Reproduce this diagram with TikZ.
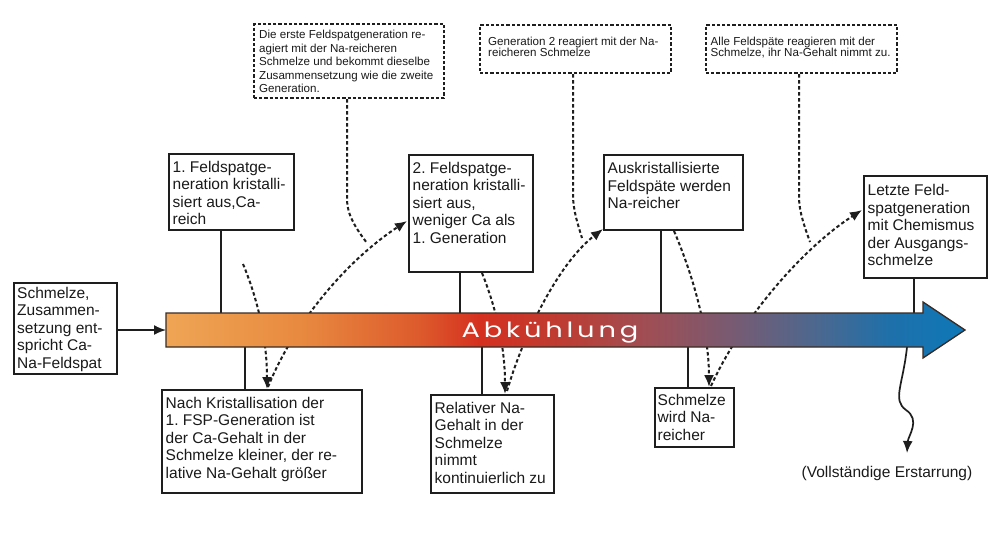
\documentclass[tikz,border=0pt]{standalone}
\usepackage{fontspec}
\setmainfont{Liberation Sans}
\newfontfamily\abkfont[LetterSpace=14]{Poppins}
\usetikzlibrary{arrows.meta}
\frenchspacing
\definecolor{boxc}{HTML}{1E1E1E}
\definecolor{txtc}{HTML}{1A1A1A}
\definecolor{outl}{HTML}{3A2C24}
\definecolor{g0}{HTML}{EFA555}
\definecolor{g1}{HTML}{E88A40}
\definecolor{g2}{HTML}{DD5A2C}
\definecolor{g3}{HTML}{D5301F}
\definecolor{g4}{HTML}{BE3C32}
\definecolor{g5}{HTML}{9E4E55}
\definecolor{g6}{HTML}{745C75}
\definecolor{g7}{HTML}{4A6890}
\definecolor{g8}{HTML}{1E70AA}
\definecolor{g9}{HTML}{0E78B8}
\pgfdeclarehorizontalshading{coolshade}{100bp}{color(0bp)=(g0); color(25bp)=(g0); color(33.4bp)=(g1); color(40.9bp)=(g2); color(44.65bp)=(g3); color(49.65bp)=(g4); color(55.3bp)=(g5); color(60.9bp)=(g6); color(65.9bp)=(g7); color(70.3bp)=(g8); color(75bp)=(g9); color(100bp)=(g9)}
\tikzset{
  box/.style={draw=boxc, line width=1.9pt, fill=white, inner sep=0pt, anchor=north west},
  dbox/.style={box, dash pattern=on 3.2pt off 2pt, line width=2.1pt},
  btxt/.style={anchor=north west, inner sep=0pt, align=left, text=txtc, font=\fontsize{15.5}{17.5}\selectfont},
  stxt/.style={anchor=north west, inner sep=0pt, align=left, text=txtc, font=\fontsize{11.6}{13.5}\selectfont},
  stxtb/.style={stxt, font=\fontsize{11.6}{11.8}\selectfont},
  link/.style={draw=boxc, line width=1.7pt},
  dlink/.style={draw=boxc, line width=2pt, dash pattern=on 3.5pt off 2.5pt},
  tip/.style={-{Latex[length=12pt,width=10pt]}}
}
\begin{document}
\begin{tikzpicture}[x=1pt, y=-1pt]
\useasboundingbox (0,0) rectangle (1000,536);
\fill[white] (0,0) rectangle (1000,536);

% coordinates on the arrow
\coordinate (arrL) at (166,330);
\coordinate (l1) at (221,313);
\coordinate (l2) at (245,347);
\coordinate (l3) at (460,313);
\coordinate (l4) at (482,347);
\coordinate (l5) at (661,313);
\coordinate (l6) at (688,347);
\coordinate (l7) at (914,313);
\coordinate (w0) at (907,347);
\coordinate (w1) at (907,453);

% boxes
\node[box, minimum width=103pt, minimum height=91pt] (s0) at (13,282) {};
\node[btxt] (s0t) at ([xshift=4pt,yshift=-5pt]s0.north west) {Schmelze,\\Zusammen-\\setzung ent-\\spricht Ca-\\Na-Feldspat};

\node[box, minimum width=125pt, minimum height=76pt] (b1) at (168,153) {};
\node[btxt] (b1t) at ([xshift=4.5pt,yshift=-8pt]b1.north west) {1. Feldspatge-\\neration kristalli-\\siert aus,Ca-\\reich};

\node[box, minimum width=124pt, minimum height=117pt] (b2) at (408,154) {};
\node[btxt] (b2t) at ([xshift=4.5pt,yshift=-8pt]b2.north west) {2. Feldspatge-\\neration kristalli-\\siert aus,\\weniger Ca als\\1. Generation};

\node[box, minimum width=139pt, minimum height=75pt] (b3) at (603,154) {};
\node[btxt] (b3t) at ([xshift=4.5pt,yshift=-8.5pt]b3.north west) {Auskristallisierte\\Feldspäte werden\\Na-reicher};

\node[box, minimum width=123pt, minimum height=102pt] (b4) at (863,175) {};
\node[btxt] (b4t) at ([xshift=4.5pt,yshift=-9.5pt]b4.north west) {Letzte Feld-\\spatgeneration\\mit Chemismus\\der Ausgangs-\\schmelze};

\node[box, minimum width=200pt, minimum height=103pt] (d1) at (161,389) {};
\node[btxt] (d1t) at ([xshift=4.5pt,yshift=-8pt]d1.north west) {Nach Kristallisation der\\1. FSP-Generation ist\\der Ca-Gehalt in der\\Schmelze kleiner, der re-\\lative Na-Gehalt größer};

\node[box, minimum width=123pt, minimum height=98pt] (d2) at (430,394) {};
\node[btxt] (d2t) at ([xshift=4.5pt,yshift=-8pt]d2.north west) {Relativer Na-\\Gehalt in der\\Schmelze\\nimmt\\kontinuierlich zu};

\node[box, minimum width=79pt, minimum height=59pt] (d3) at (654,387) {};
\node[btxt] (d3t) at ([xshift=3.5pt,yshift=-7pt]d3.north west) {Schmelze\\wird Na-\\reicher};

\node[dbox, minimum width=190pt, minimum height=74pt] (t1) at (253,23) {};
\node[stxt] (t1t) at ([xshift=6pt,yshift=-7pt]t1.north west) {Die erste Feldspatgeneration re-\\agiert mit der Na-reicheren\\Schmelze und bekommt dieselbe\\Zusammensetzung wie die zweite\\Generation.};

\node[dbox, minimum width=191pt, minimum height=48pt] (t2) at (479,24) {};
\node[stxtb] (t2t) at ([xshift=9pt,yshift=-12.5pt]t2.north west) {Generation 2 reagiert mit der Na-\\reicheren Schmelze};

\node[dbox, minimum width=191pt, minimum height=48pt] (t3) at (705,24) {};
\node[stxtb] (t3t) at ([xshift=5.5pt,yshift=-12.5pt]t3.north west) {Alle Feldspäte reagieren mit der\\Schmelze, ihr Na-Gehalt nimmt zu.};

\node[anchor=base, inner sep=0pt, text=txtc, font=\fontsize{15.5}{17.5}\selectfont] (end) at (887,477) {(Vollständige Erstarrung)};

% dashed curves (behind the arrow)
\coordinate (c1a) at (243,264);
\coordinate (c1b) at (267,389);
\coordinate (c2a) at (268,387);
\coordinate (c2b) at (407,221);
\coordinate (c3a) at (482,273);
\coordinate (c3b) at (505,394);
\coordinate (c4a) at (507,391);
\coordinate (c4b) at (603,229);
\coordinate (c5a) at (674,231);
\coordinate (c5b) at (709,387);
\coordinate (c6a) at (711,386);
\coordinate (c6b) at (862,210);
\coordinate (e1) at (367,243);
\coordinate (e2) at (582,238);
\coordinate (e3) at (810,242);

\draw[dlink, tip] (c1a) .. controls (258,300) and (267,340) .. (c1b);
\draw[dlink, tip] (c2a) .. controls (295,320) and (350,258) .. (c2b);
\draw[dlink, tip] (c3a) .. controls (495,305) and (505,345) .. (c3b);
\draw[dlink, tip] (c4a) .. controls (525,330) and (560,262) .. (c4b);
\draw[dlink, tip] (c5a) .. controls (695,280) and (709,335) .. (c5b);
\draw[dlink, tip] (c6a) .. controls (740,322) and (800,250) .. (c6b);
\draw[dlink] (t1.south -| 347,0) -- (347,200) .. controls (347,215) and (357,230) .. (e1);
\draw[dlink] (t2.south -| 573,0) -- (573,195) .. controls (573,210) and (578,225) .. (e2);
\draw[dlink] (t3.south -| 799,0) -- (799,197) .. controls (799,212) and (805,228) .. (e3);

% solid connectors
\draw[link, tip] (s0.east |- arrL) -- (arrL);
\draw[link] (l1 |- b1.south) -- (l1);
\draw[link] (l2) -- (l2 |- d1.north);
\draw[link] (l3 |- b2.south) -- (l3);
\draw[link] (l4) -- (l4 |- d2.north);
\draw[link] (l5 |- b3.south) -- (l5);
\draw[link] (l6) -- (l6 |- d3.north);
\draw[link] (l7 |- b4.south) -- (l7);
\draw[link, tip] (w0) .. controls (903,385) and (892,400) .. (906,410) .. controls (921,420) and (908,436) .. (w1);

% main arrow
\path[shading=coolshade, draw=outl, line width=1.3pt, line join=miter]
  (166,313) -- (923,313) -- (923,302) -- (965,330) -- (923,358) -- (923,347) -- (166,347) -- cycle;
\node[anchor=base, inner sep=0pt, text=white, font=\abkfont\fontsize{21}{21}\selectfont] (abk) at (550,337) {\scalebox{1.3}[1]{Abkühlung}};
\end{tikzpicture}
\end{document}
